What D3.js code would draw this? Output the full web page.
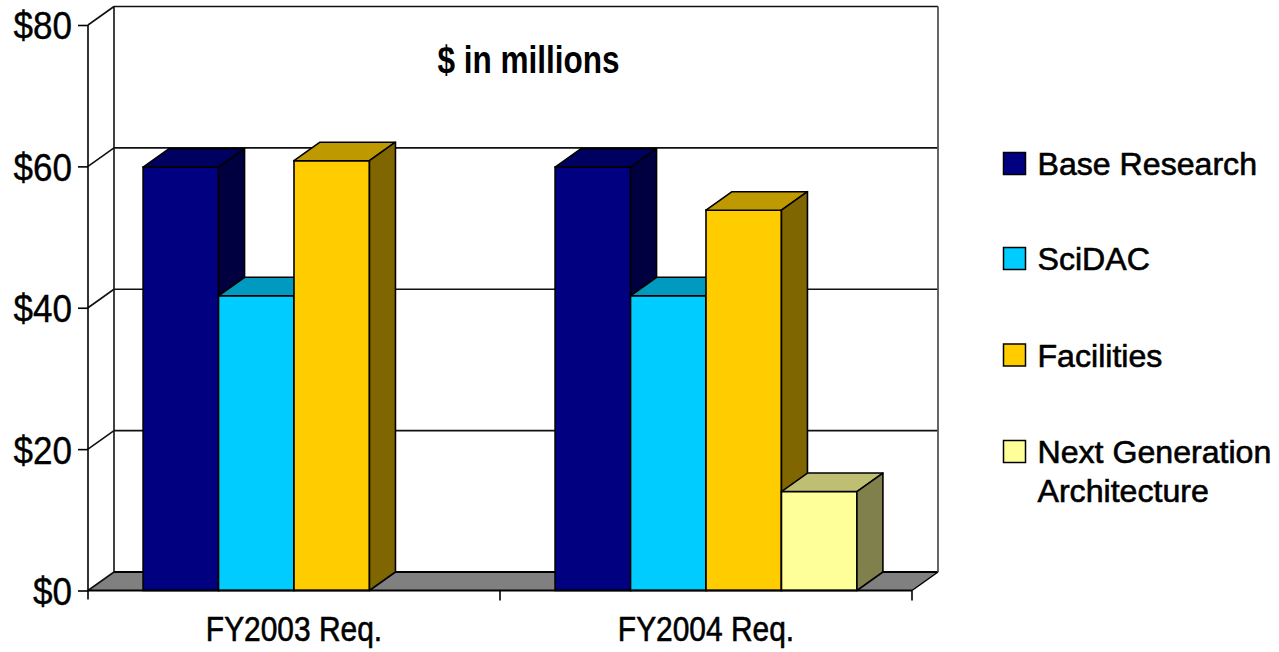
<!DOCTYPE html>
<html>
<head>
<meta charset="utf-8">
<script src="https://cdn.jsdelivr.net/npm/d3@7"></script>
<style>
  html, body { margin: 0; padding: 0; background: #fff; }
  svg { display: block; }
  text { font-family: "Liberation Sans", Arial, Helvetica, sans-serif; fill: #000; }
</style>
</head>
<body>
<svg id="chart" width="1279" height="652"></svg>
<script>
// ---- data ----
const categories = ["FY2003 Req.", "FY2004 Req."];
const seriesNames = ["Base Research", "SciDAC", "Facilities", "Next Generation Architecture"];
const baseResearch = [59.9, 59.9];
const sciDAC = [41.7, 41.7];
const facilities = [60.8, 53.8];
const nextGenArch = [null, 14.0];
const seriesValues = [baseResearch, sciDAC, facilities, nextGenArch];
const tickValues = [0, 20, 40, 60, 80];
const tickLabels = ["$0", "$20", "$40", "$60", "$80"];
const chartTitle = "$ in millions";

// colors: front, top, side
const seriesColors = [
  {front: "#000080", top: "#000060", side: "#000040"},
  {front: "#00CCFF", top: "#0099BF", side: "#006680"},
  {front: "#FFCC00", top: "#BF9900", side: "#806600"},
  {front: "#FFFF99", top: "#BFBF73", side: "#80804D"}
];

// ---- layout ----
const svg = d3.select("#chart");
const x0 = 88, x1 = 912;
const yScale = d3.scaleLinear().domain([0, 80]).range([590.5, 25]);
const DX = 26, DY = -18.5;
const xCat = d3.scaleBand().domain(categories).range([x0, x1]).padding(0);
const xSer = d3.scaleBand().domain(seriesNames).range([0, xCat.bandwidth()])
  .paddingInner(0).paddingOuter(0.73);

const g = svg.append("g");

// back wall
g.append("rect").attr("x", x0 + DX).attr("y", yScale(80) + DY)
  .attr("width", x1 - x0).attr("height", yScale(0) - yScale(80))
  .attr("fill", "#fff");

// floor
const y0 = yScale(0);
g.append("path")
  .attr("d", `M${x0},${y0}L${x1},${y0}L${x1 + DX},${y0 + DY}L${x0 + DX},${y0 + DY}Z`)
  .attr("fill", "#808080");

// gridlines on back wall + side wall diagonals
tickValues.forEach(v => {
  const yf = yScale(v);
  if (v > 0) {
    g.append("line").attr("x1", x0 + DX).attr("x2", x1 + DX)
      .attr("y1", yf + DY).attr("y2", yf + DY)
      .attr("stroke", "#111").attr("stroke-width", 1.6);
  }
  g.append("line").attr("x1", x0).attr("x2", x0 + DX)
    .attr("y1", yf).attr("y2", yf + DY)
    .attr("stroke", "#111").attr("stroke-width", 1.6);
});
// floor back edge
g.append("line").attr("x1", x0 + DX).attr("x2", x1 + DX)
  .attr("y1", y0 + DY).attr("y2", y0 + DY)
  .attr("stroke", "#000").attr("stroke-width", 2);
// back wall verticals
g.append("line").attr("x1", x0 + DX).attr("x2", x0 + DX)
  .attr("y1", yScale(80) + DY).attr("y2", y0 + DY)
  .attr("stroke", "#111").attr("stroke-width", 1.6);
g.append("line").attr("x1", x1 + DX).attr("x2", x1 + DX)
  .attr("y1", yScale(80) + DY).attr("y2", y0 + DY)
  .attr("stroke", "#555").attr("stroke-width", 1.8);
// floor right edge
g.append("line").attr("x1", x1).attr("x2", x1 + DX)
  .attr("y1", y0).attr("y2", y0 + DY)
  .attr("stroke", "#000").attr("stroke-width", 1.5);

// bars (left to right)
const bars = [];
categories.forEach((c, ci) => {
  seriesNames.forEach((s, si) => {
    const v = seriesValues[si][ci];
    if (v === null || v === undefined) return;
    bars.push({c, s, si, v});
  });
});
bars.sort((a, b) => (xCat(a.c) + xSer(a.s)) - (xCat(b.c) + xSer(b.s)));
const w = xSer.bandwidth();
bars.forEach(b => {
  const bx = xCat(b.c) + xSer(b.s);
  const by = yScale(b.v);
  const col = seriesColors[b.si];
  const bg = g.append("g");
  bg.append("rect").attr("x", bx).attr("y", by).attr("width", w).attr("height", y0 - by)
    .attr("fill", col.front).attr("stroke", "#000").attr("stroke-width", 1.6);
  bg.append("path")
    .attr("d", `M${bx},${by}L${bx + w},${by}L${bx + w + DX},${by + DY}L${bx + DX},${by + DY}Z`)
    .attr("fill", col.top).attr("stroke", "#000").attr("stroke-width", 1.6).attr("stroke-linejoin", "round");
  bg.append("path")
    .attr("d", `M${bx + w},${by}L${bx + w + DX},${by + DY}L${bx + w + DX},${y0 + DY}L${bx + w},${y0}Z`)
    .attr("fill", col.side).attr("stroke", "#000").attr("stroke-width", 1.6).attr("stroke-linejoin", "round");
});

// front floor line
g.append("line").attr("x1", x0).attr("x2", x1).attr("y1", y0).attr("y2", y0)
  .attr("stroke", "#000").attr("stroke-width", 2.2);

// y axis
const tickSx = 0.91;
const yAxis = d3.axisLeft(yScale).tickValues(tickValues)
  .tickFormat((d, i) => tickLabels[i]).tickSize(10).tickPadding(6);
const ya = svg.append("g").attr("transform", `translate(${x0},0)`).call(yAxis);
ya.select(".domain").remove();
ya.selectAll(".tick line").attr("stroke", "#000").attr("stroke-width", 1.6);
ya.selectAll(".tick text").attr("font-size", 38.5).attr("dy", "0.36em")
  .attr("x", -16 / tickSx).attr("transform", `scale(${tickSx},1)`)
  .attr("stroke", "#000").attr("stroke-width", 0.4)
  .style("font-family", '"Liberation Sans", Arial, sans-serif');
svg.append("line").attr("x1", x0).attr("x2", x0).attr("y1", yScale(80)).attr("y2", y0 + 9)
  .attr("stroke", "#000").attr("stroke-width", 1.6);

// x axis
const catSx = 0.855;
const xAxis = d3.axisBottom(xCat).tickSize(0).tickPadding(0);
const xa = svg.append("g").attr("transform", `translate(0,${y0})`).call(xAxis);
xa.select(".domain").remove();
xa.selectAll(".tick text").attr("font-size", 35).attr("y", 51).attr("dy", 0)
  .attr("transform", `scale(${catSx},1)`)
  .attr("stroke", "#000").attr("stroke-width", 0.6)
  .style("font-family", '"Liberation Sans", Arial, sans-serif');
categories.forEach(c => {
  const xe = xCat(c) + xCat.bandwidth();
  svg.append("line").attr("x1", xe).attr("x2", xe).attr("y1", y0).attr("y2", y0 + 10)
    .attr("stroke", "#000").attr("stroke-width", 1.6);
});

// title
svg.append("text").attr("transform", "translate(528.5,73) scale(0.83,1)")
  .attr("text-anchor", "middle")
  .attr("font-size", 38).attr("font-weight", "bold").text(chartTitle);

// legend
const legendLines = [["Base Research"], ["SciDAC"], ["Facilities"], ["Next Generation", "Architecture"]];
const legendBaselines = [175, 270, 366.5, 463];
const legSx = 1.02;
const lg = svg.append("g");
seriesNames.forEach((s, i) => {
  const yb = legendBaselines[i];
  lg.append("rect").attr("x", 1003.5).attr("y", yb - 22.5).attr("width", 22).attr("height", 22)
    .attr("fill", seriesColors[i].front).attr("stroke", "#000").attr("stroke-width", 1.5);
  const t = lg.append("text").attr("transform", `translate(1037.5,${yb}) scale(${legSx},1)`)
    .attr("font-size", 31.5).attr("stroke", "#000").attr("stroke-width", 0.6);
  legendLines[i].forEach((ln, j) => {
    t.append("tspan").attr("x", 0).attr("dy", j === 0 ? 0 : 39).text(ln);
  });
});
</script>
</body>
</html>
